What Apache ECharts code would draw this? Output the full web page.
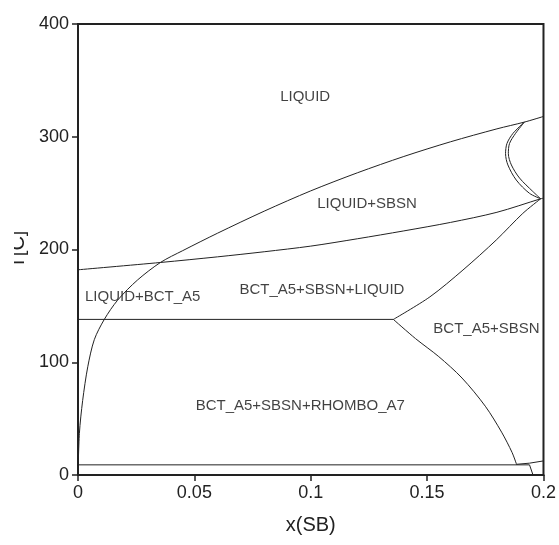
<!DOCTYPE html>
<html>
<head>
<meta charset="utf-8">
<script src="https://cdn.jsdelivr.net/npm/echarts@6/dist/echarts.min.js"></script>
<style>
    html, body { margin: 0; padding: 0; background: #fff; }
    #phaseChart { width: 559px; height: 545px; }
</style>
</head>
<body>
<div id="phaseChart"></div>
<script>
// 坐标轴刻度
var xTickLabels = ['0', '0.05', '0.1', '0.15', '0.2'];
var yTicks = [0, 100, 200, 300, 400];

// 相界线 [x(SB), T]
var liquidusUpper = [[0, 0], [0.0006, 37], [0.002, 66], [0.0042, 96], [0.007, 120], [0.0113, 138], [0.017, 155],
    [0.0256, 173], [0.0355, 188.6], [0.045, 199], [0.06, 214.5], [0.08, 234], [0.1, 252], [0.12, 268],
    [0.14, 282.5], [0.16, 295.5], [0.18, 307], [0.1918, 313], [0.2, 318]];
var liquidusLower = [[0, 182], [0.0355, 188.5], [0.06, 193.5], [0.08, 198], [0.1, 203], [0.12, 209.5],
    [0.14, 216.5], [0.16, 224], [0.18, 233], [0.1988, 245], [0.2, 245.5]];
var eutecticLine = [[0, 138], [0.1355, 138]];
var sbsnRise = [[0.1355, 138], [0.1512, 158], [0.1654, 181.8], [0.1797, 208.4], [0.1911, 232], [0.1988, 245]];
var sbsnFall = [[0.1355, 138], [0.145, 121], [0.155, 105], [0.165, 86], [0.175, 61], [0.182, 38], [0.1865, 20], [0.1885, 9]];
var bottomLine = [[0, 9], [0.194, 9]];
var bottomRise = [[0.1885, 9.5], [0.194, 10.5], [0.2, 12.5]];
var bottomDrop = [[0.194, 9], [0.1955, 0]];
var loopOuter = [[0.1918, 313], [0.1869, 303], [0.1843, 294], [0.1837, 285], [0.1847, 275], [0.1883, 261.6], [0.194, 249.8], [0.1988, 245]];
var loopInner = [[0.1918, 313], [0.188, 303], [0.1854, 294], [0.1849, 285], [0.1862, 275], [0.1897, 263.4], [0.1954, 251.5], [0.1988, 245]];

// 相区标注
var regionNames = ['LIQUID', 'LIQUID+SBSN', 'LIQUID+BCT_A5', 'BCT_A5+SBSN+LIQUID', 'BCT_A5+SBSN', 'BCT_A5+SBSN+RHOMBO_A7'];
var regionPos = [[0.0976, 335], [0.1242, 240.4], [0.0278, 158], [0.1048, 164], [0.1755, 129.5], [0.0955, 61]];

var boundaries = [
    { data: liquidusUpper, smooth: true },
    { data: liquidusLower, smooth: true },
    { data: eutecticLine, smooth: false },
    { data: sbsnRise, smooth: true },
    { data: sbsnFall, smooth: true },
    { data: bottomLine, smooth: false },
    { data: bottomRise, smooth: false },
    { data: bottomDrop, smooth: false },
    { data: loopOuter, smooth: true },
    { data: loopInner, smooth: true }
];

var series = boundaries.map(function (b) {
    return {
        type: 'line',
        data: b.data,
        smooth: b.smooth ? 0.3 : false,
        showSymbol: false,
        symbol: 'none',
        silent: true,
        lineStyle: { color: '#222', width: 1 }
    };
});

series.push({
    type: 'scatter',
    symbolSize: 0,
    silent: true,
    data: regionNames.map(function (n, i) {
        return { value: regionPos[i], name: n };
    }),
    label: {
        show: true,
        position: 'inside',
        formatter: '{b}',
        fontFamily: '"Liberation Sans", Arial, sans-serif',
        fontSize: 15,
        color: '#111'
    }
});

var phaseChart = echarts.init(document.getElementById('phaseChart'));
var phaseOption = {
    animation: false,
    grid: {
        left: 77, right: 15, top: 24, bottom: 70,
        show: true, borderColor: '#222', borderWidth: 2
    },
    xAxis: {
        type: 'value',
        min: 0, max: 0.2, interval: 0.05,
        name: 'x(SB)',
        nameLocation: 'middle',
        nameGap: 40,
        nameTextStyle: { fontFamily: '"Liberation Sans", Arial, sans-serif', fontSize: 20, color: '#222' },
        axisLine: { show: true, lineStyle: { color: '#222', width: 2 } },
        axisTick: { show: true, length: 6, lineStyle: { color: '#222', width: 1.5 } },
        splitLine: { show: false },
        axisLabel: {
            fontFamily: '"Liberation Sans", Arial, sans-serif',
            fontSize: 18, color: '#222', margin: 9,
            formatter: function (v) {
                return xTickLabels[Math.round(v / 0.05)];
            }
        }
    },
    yAxis: {
        type: 'value',
        min: yTicks[0], max: yTicks[yTicks.length - 1], interval: 100,
        name: 'T[C]',
        nameLocation: 'middle',
        nameGap: 50,
        nameRotate: 90,
        nameTextStyle: { fontFamily: '"Liberation Sans", Arial, sans-serif', fontSize: 20, color: '#222' },
        axisLine: { show: true, lineStyle: { color: '#222', width: 2 } },
        axisTick: { show: true, length: 6, lineStyle: { color: '#222', width: 1.5 } },
        splitLine: { show: false },
        axisLabel: {
            fontFamily: '"Liberation Sans", Arial, sans-serif',
            fontSize: 18, color: '#222', margin: 9
        }
    },
    // 原图左侧被裁切
    graphic: [{
        type: 'rect', left: 0, top: 0, z: 100,
        shape: { width: 14, height: 545 },
        style: { fill: '#fff' }
    }],
    series: series
};
phaseChart.setOption(phaseOption);
</script>
</body>
</html>
